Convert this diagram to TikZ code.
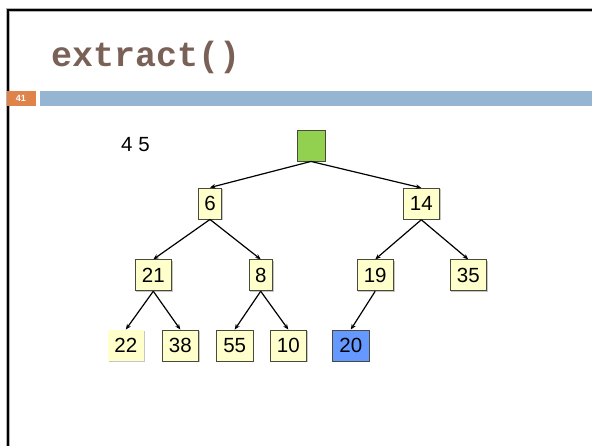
\documentclass[tikz,border=0pt]{standalone}
\usepackage{fontspec}
\setmainfont{Liberation Sans}
\newfontfamily\titlefont{Liberation Mono}
\usetikzlibrary{arrows.meta,shadows}
\definecolor{titlebrown}{HTML}{7A6157}
\definecolor{barblue}{HTML}{95B5D3}
\definecolor{barorange}{HTML}{E0834A}
\definecolor{nodeyellow}{HTML}{FFFFCC}
\definecolor{nodegreen}{HTML}{92D050}
\definecolor{nodeblue}{HTML}{6699FF}
\definecolor{nodeborder}{HTML}{4A4A3A}
\tikzset{
  heapbox/.style={rectangle, fill=nodeyellow, draw=nodeborder, line width=0.9pt,
    minimum height=31pt, inner sep=0pt, font=\fontsize{20.5}{20.5}\selectfont,
    drop shadow={shadow xshift=1.2pt, shadow yshift=-1.2pt, fill=gray!45, opacity=1}},
  wide/.style={minimum width=36.5pt},
  narrow/.style={minimum width=23.5pt},
  edge/.style={line width=1.2pt, -{Stealth[length=5.5pt,width=4.5pt]}},
}
\begin{document}
\begin{tikzpicture}[x=1pt,y=-1pt]
\useasboundingbox (0,0) rectangle (592,446);
% frame
\draw[line width=3.5pt, gray!60] (8,446) -- (8,10) -- (592,10);
\draw[line width=2.4pt, black] (8,446) -- (8,10) -- (592,10);
% title
\node[anchor=base west, inner sep=0pt, text=titlebrown, font=\titlefont\bfseries\fontsize{35}{35}\selectfont] (title) at (51,67) {extract()};
% header bar
\fill[barorange] (7,91) rectangle (36,106);
\node[text=white, font=\bfseries\fontsize{9}{9}\selectfont, inner sep=0pt] (pg) at (21,98.5) {41};
\fill[barblue] (40,91) rectangle (592,106);
% text
\node[font=\fontsize{20.5}{20.5}\selectfont, inner sep=0pt] (lbl) at (135.5,145) {4\hspace{6pt}5};
% nodes
\node[heapbox, fill=nodegreen, minimum width=28pt] (r) at (311,145.5) {};
\node[heapbox, narrow] (n6) at (210,203.5) {6};
\node[heapbox, wide] (n14) at (421.3,203.8) {14};
\node[heapbox, wide] (n21) at (153.3,275.3) {21};
\node[heapbox, narrow] (n8) at (260.7,275.3) {8};
\node[heapbox, wide] (n19) at (375.2,275.3) {19};
\node[heapbox, wide] (n35) at (468.3,275.3) {35};
\node[heapbox, wide, draw=none] (n22) at (125.8,345.5) {22};
\node[heapbox, wide] (n38) at (180.3,345.5) {38};
\node[heapbox, wide] (n55) at (234.7,345.5) {55};
\node[heapbox, wide] (n10) at (288.3,345.5) {10};
\node[heapbox, wide, fill=nodeblue] (n20) at (350.8,345.5) {20};
% edges
\draw[edge] (r.south) -- (n6.north);
\draw[edge] (r.south) -- (n14.north);
\draw[edge] (n6.south) -- (n21.north);
\draw[edge] (n6.south) -- (n8.north);
\draw[edge] (n14.south) -- (n19.north);
\draw[edge] (n14.south) -- (n35.north);
\draw[edge] (n21.south) -- (n22.north);
\draw[edge] (n21.south) -- (n38.north);
\draw[edge] (n8.south) -- (n55.north);
\draw[edge] (n8.south) -- (n10.north);
\draw[edge] (n19.south) -- (n20.north);
\end{tikzpicture}
\end{document}
